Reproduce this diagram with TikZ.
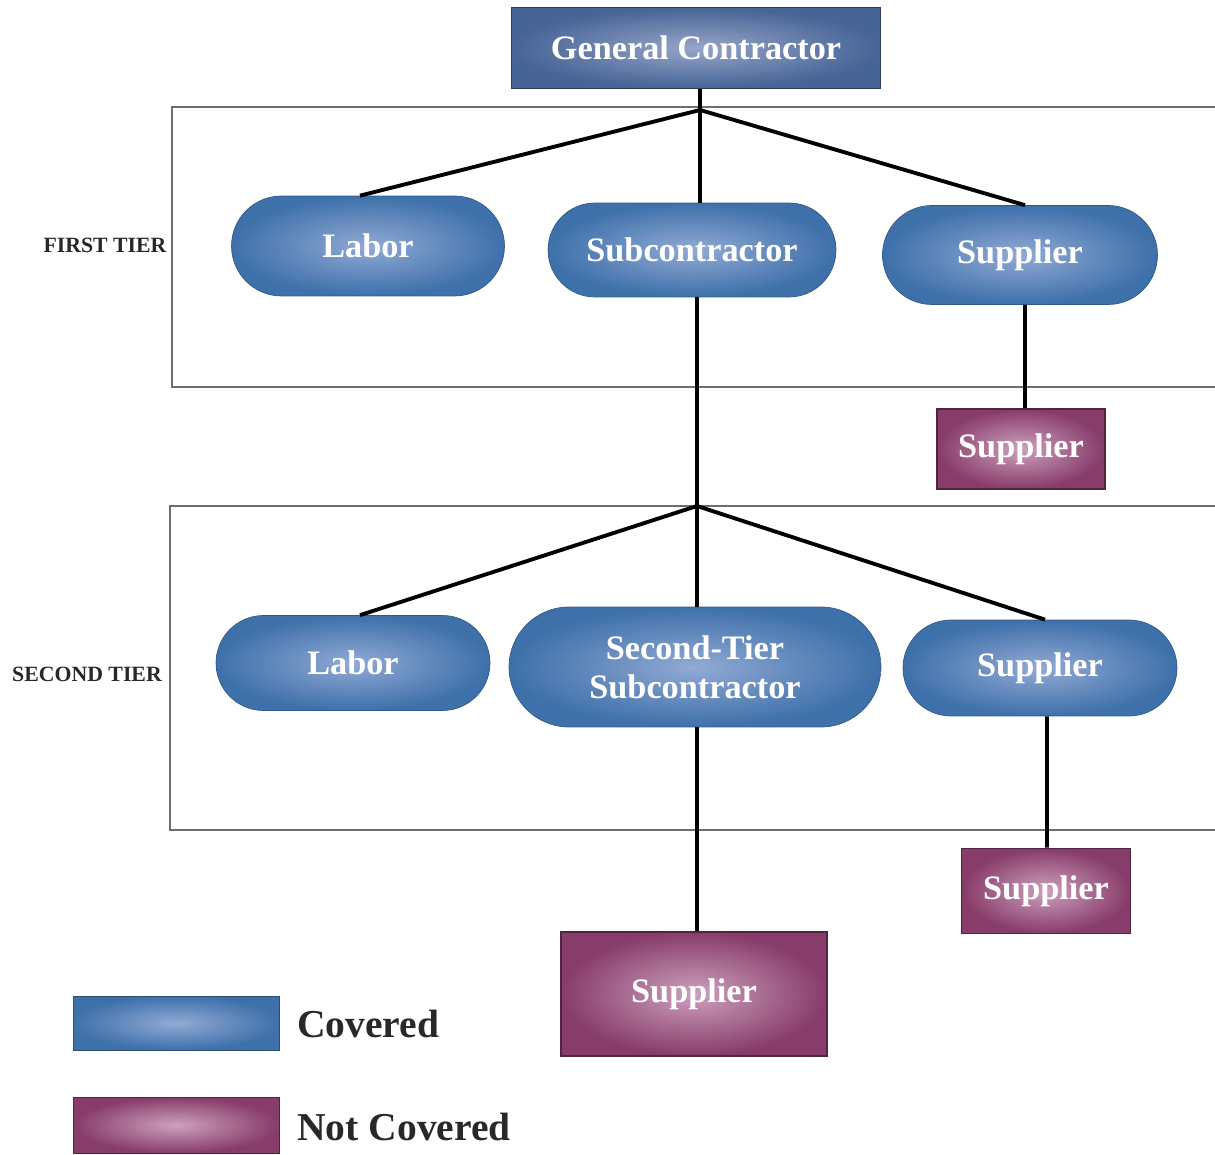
\documentclass[tikz,border=0pt]{standalone}
\usepackage{fontspec}
\setmainfont{Liberation Serif}
\usetikzlibrary{shapes.misc}
\definecolor{bluedark}{RGB}{62,112,170}
\definecolor{bluelight}{RGB}{145,170,212}
\definecolor{gcdark}{RGB}{70,100,150}
\definecolor{gclight}{RGB}{150,165,200}
\definecolor{purpdark}{RGB}{135,60,105}
\definecolor{purplight}{RGB}{205,160,190}
\definecolor{framegray}{RGB}{110,110,110}
\definecolor{txtdark}{RGB}{40,40,40}
\tikzset{
  pill/.style={rounded rectangle, inner sep=0pt, draw=bluedark!80!black, line width=0.4pt,
     inner color=bluelight, outer color=bluedark, text=white, font=\bfseries\fontsize{19.5}{22}\selectfont, align=center},
  gcbox/.style={rectangle, inner sep=0pt, draw=gcdark!60!black, line width=1pt,
     inner color=gclight, outer color=gcdark, text=white, font=\bfseries\fontsize{19.5}{22}\selectfont},
  ncbox/.style={rectangle, inner sep=0pt, draw=purpdark!60!black, line width=1pt,
     inner color=purplight, outer color=purpdark, text=white, font=\bfseries\fontsize{19.5}{22}\selectfont},
  conn/.style={line width=2.2pt, black},
  frame/.style={line width=0.8pt, framegray},
  tierlabel/.style={font=\bfseries\fontsize{12.4}{14}\selectfont, text=txtdark, inner sep=0pt},
  legendtext/.style={font=\bfseries\fontsize{22.5}{26}\selectfont, text=txtdark, anchor=west, inner sep=0pt}
}
\begin{document}
\begin{tikzpicture}[x=0.02cm, y=-0.02cm]
\useasboundingbox (0,0) rectangle (1215,1155);
% frames
\draw[frame] (1215,107) -- (172,107) -- (172,387) -- (1215,387);
\draw[frame] (1215,506) -- (170,506) -- (170,830) -- (1215,830);
\node[tierlabel] (t1) at (105,245) {FIRST TIER};
\node[tierlabel] (t2) at (87,674) {SECOND TIER};
% nodes
\node[gcbox, minimum width=7.38cm, minimum height=1.62cm] (gc) at (696,48) {General Contractor};
\node[pill, minimum width=5.46cm, minimum height=2.0cm] (lab1) at (368,246) {Labor};
\node[pill, minimum width=5.76cm, minimum height=1.88cm] (sub1) at (692,250) {Subcontractor};
\node[pill, minimum width=5.5cm, minimum height=1.98cm] (sup1) at (1020,255) {Supplier};
\node[ncbox, minimum width=3.36cm, minimum height=1.6cm] (nc1) at (1021,449) {Supplier};
\node[pill, minimum width=5.48cm, minimum height=1.9cm] (lab2) at (353,663) {Labor};
\node[pill, minimum width=7.44cm, minimum height=2.4cm] (sub2) at (695,667) {Second-Tier\\Subcontractor};
\node[pill, minimum width=5.48cm, minimum height=1.92cm] (sup2) at (1040,668) {Supplier};
\node[ncbox, minimum width=3.38cm, minimum height=1.7cm] (nc2) at (1046,891) {Supplier};
\node[ncbox, minimum width=5.32cm, minimum height=2.48cm] (nc3) at (694,994) {Supplier};
% legend
\node[rectangle, inner sep=0pt, draw=bluedark!70!black, inner color=bluelight, outer color=bluedark, minimum width=4.12cm, minimum height=1.08cm] (lgb) at (176,1023) {};
\node[rectangle, inner sep=0pt, draw=purpdark!60!black, inner color=purplight, outer color=purpdark, minimum width=4.12cm, minimum height=1.12cm] (lgp) at (176,1125) {};
\node[legendtext] (lgbt) at (297,1024) {Covered};
\node[legendtext] (lgpt) at (297,1127) {Not Covered};
% connectors
\coordinate (j1) at (700,110);
\coordinate (j2) at (697,506);
\draw[conn] (gc.south -| j1) -- (j1);
\draw[conn] (j1) -- ([xshift=-0.16cm]lab1.north);
\draw[conn] (j1) -- (sub1.north -| j1);
\draw[conn] (j1) -- ([xshift=0.1cm]sup1.north);
\draw[conn] ([xshift=0.1cm]sup1.south) -- ([xshift=0.08cm]nc1.north);
\draw[conn] (sub1.south -| j2) -- (j2);
\draw[conn] (j2) -- ([xshift=0.14cm]lab2.north);
\draw[conn] (j2) -- (sub2.north -| j2);
\draw[conn] (j2) -- ([xshift=0.1cm]sup2.north);
\draw[conn] (sub2.south -| j2) -- (nc3.north -| j2);
\draw[conn] ([xshift=0.14cm]sup2.south) -- ([xshift=0.02cm]nc2.north);
\end{tikzpicture}
\end{document}
